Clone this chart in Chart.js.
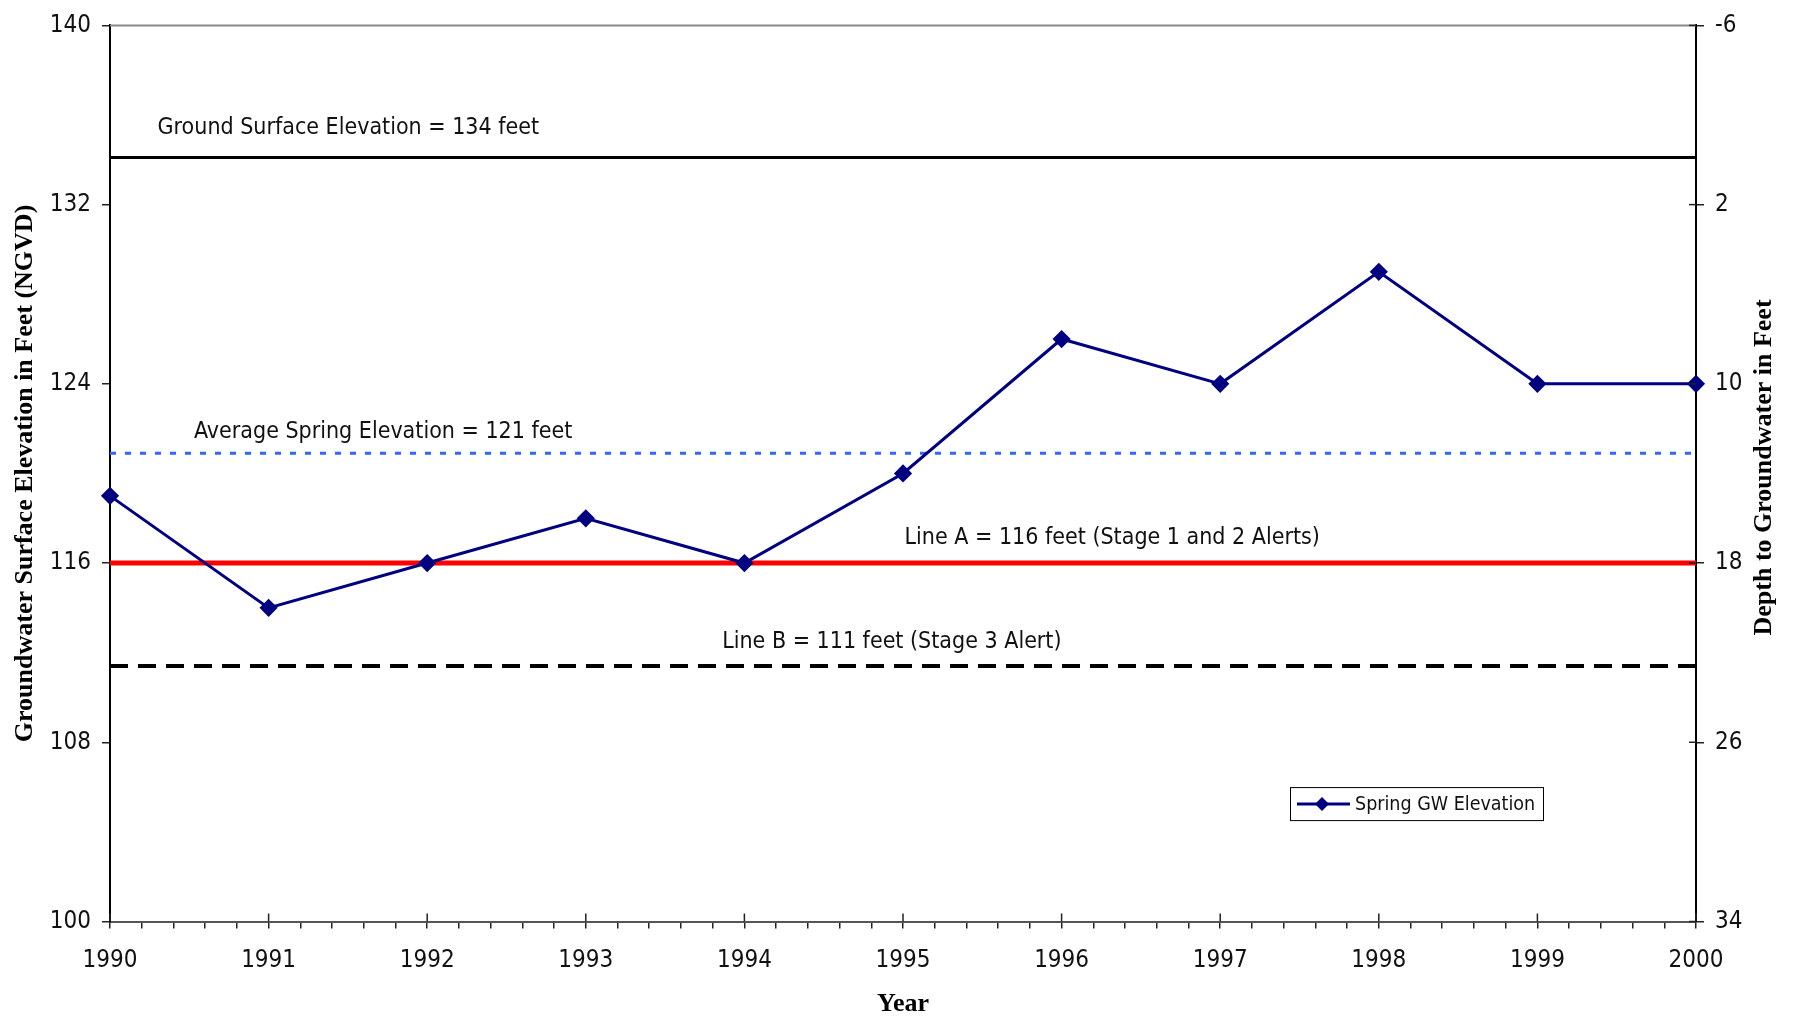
<!DOCTYPE html>
<html>
<head>
<meta charset="utf-8">
<title>Spring GW Elevation</title>
<script src="https://cdn.jsdelivr.net/npm/chart.js@4/dist/chart.umd.min.js"></script>
<style>
	html, body { margin: 0; padding: 0; background: #fff; }
	#wrap { position: relative; width: 1797px; height: 1020px; }
</style>
</head>
<body>
<div id="wrap"><canvas id="gw"></canvas></div>
<script>
// Data
const years = [1990, 1991, 1992, 1993, 1994, 1995, 1996, 1997, 1998, 1999, 2000];
const springElevation = [119, 114, 116, 118, 116, 120, 126, 124, 129, 124, 124];
const groundSurface = 134.1;
const avgSpring = 120.9;
const lineA = 116;
const lineB = 111.4;
const elevationTicks = [100, 108, 116, 124, 132, 140];
const depthTicks = [-6, 2, 10, 18, 26, 34];

const narrow = "'Liberation Sans Narrow', 'Arial Narrow', 'DejaVu Sans Condensed', sans-serif";
const serif = "'Liberation Serif', 'Times New Roman', serif";

// text notes placed in data units
const notes = [
	{ text: "Ground Surface Elevation = 134 feet", x: 1990.3, y: 135.15 },
	{ text: "Average Spring Elevation = 121 feet", x: 1990.53, y: 121.6 },
	{ text: "Line A = 116 feet (Stage 1 and 2 Alerts)", x: 1995.01, y: 116.85 },
	{ text: "Line B = 111 feet (Stage 3 Alert)", x: 1993.86, y: 112.2 }
];

function flatLine(v) {
	return [{ x: years[0], y: v }, { x: years[years.length - 1], y: v }];
}

const overlay = {
	id: "overlay",
	afterDatasetsDraw(chart) {
		const { ctx, scales: { x, y } } = chart;
		ctx.save();
		ctx.fillStyle = "#111";
		ctx.font = "23px " + narrow;
		ctx.textAlign = "left";
		ctx.textBaseline = "alphabetic";
		notes.forEach((n) => {
			ctx.fillText(n.text, x.getPixelForValue(n.x), y.getPixelForValue(n.y));
		});
		ctx.restore();
	},
	afterDraw(chart) {
		const { ctx, chartArea: a, scales: { x, y2 } } = chart;
		ctx.save();
		// top frame line
		ctx.strokeStyle = "#8a8a8a";
		ctx.lineWidth = 2;
		ctx.beginPath();
		ctx.moveTo(a.left, a.top);
		ctx.lineTo(a.right, a.top);
		ctx.stroke();

		// inner halves of major ticks
		ctx.strokeStyle = "#222";
		ctx.lineWidth = 1.5;
		x.ticks.forEach((t) => {
			if (Math.abs(t.value - Math.round(t.value)) > 1e-6) return;
			const px = x.getPixelForValue(t.value);
			ctx.beginPath();
			ctx.moveTo(px, a.bottom);
			ctx.lineTo(px, a.bottom - 8);
			ctx.stroke();
		});
		y2.ticks.forEach((t) => {
			const py = y2.getPixelForValue(t.value);
			ctx.beginPath();
			ctx.moveTo(a.right, py);
			ctx.lineTo(a.right - 7, py);
			ctx.stroke();
		});

		// right axis title, reads bottom to top
		ctx.fillStyle = "#000";
		ctx.font = "bold 26px " + serif;
		ctx.textAlign = "center";
		ctx.textBaseline = "middle";
		ctx.translate(1764, (a.top + a.bottom) / 2 - 6);
		ctx.rotate(-Math.PI / 2);
		ctx.fillText("Depth to Groundwater in Feet", 0, 0);
		ctx.restore();

		// legend box inside the plot
		const ds = chart.data.datasets[0];
		const bx = 1290;
		const by = a.top + (a.bottom - a.top) * 0.85;
		const bw = 253, bh = 33;
		ctx.save();
		ctx.fillStyle = "#fff";
		ctx.fillRect(bx, by, bw, bh);
		ctx.strokeStyle = "#000";
		ctx.lineWidth = 1;
		ctx.strokeRect(bx + 0.5, by + 0.5, bw, bh);
		const my = by + bh / 2 + 0.5;
		ctx.strokeStyle = ds.borderColor;
		ctx.lineWidth = ds.borderWidth;
		ctx.beginPath();
		ctx.moveTo(bx + 7, my);
		ctx.lineTo(bx + 60, my);
		ctx.stroke();
		ctx.fillStyle = ds.pointBackgroundColor;
		ctx.beginPath();
		ctx.moveTo(bx + 32, my - 7);
		ctx.lineTo(bx + 39, my);
		ctx.lineTo(bx + 32, my + 7);
		ctx.lineTo(bx + 25, my);
		ctx.closePath();
		ctx.fill();
		ctx.fillStyle = "#111";
		ctx.font = "19.5px " + narrow;
		ctx.textAlign = "left";
		ctx.textBaseline = "middle";
		ctx.fillText(ds.label, bx + 65, my + 1);
		ctx.restore();
	}
};

const tickFont = { family: narrow, size: 24 };

const config = {
	type: "line",
	data: {
		datasets: [
			{
				label: "Spring GW Elevation",
				data: years.map((yr, i) => ({ x: yr, y: springElevation[i] })),
				borderColor: "#000080",
				borderWidth: 3,
				pointStyle: "rectRot",
				pointRadius: 7,
				pointBackgroundColor: "#000080",
				pointBorderColor: "#000080",
				tension: 0,
				clip: false,
				order: 0
			},
			{
				label: "Ground Surface",
				data: flatLine(groundSurface),
				borderColor: "#000",
				borderWidth: 3,
				pointRadius: 0,
				order: 4
			},
			{
				label: "Average",
				data: flatLine(avgSpring),
				borderColor: "#3366ff",
				borderWidth: 3,
				borderDash: [6, 9],
				pointRadius: 0,
				order: 3
			},
			{
				label: "Line A",
				data: flatLine(lineA),
				borderColor: "#ff0000",
				borderWidth: 5,
				pointRadius: 0,
				order: 2
			},
			{
				label: "Line B",
				data: flatLine(lineB),
				borderColor: "#000",
				borderWidth: 4,
				borderDash: [18, 10],
				pointRadius: 0,
				order: 1
			}
		]
	},
	options: {
		responsive: false,
		animation: false,
		layout: { padding: { top: 22, left: 0, right: 0, bottom: 0 } },
		plugins: {
			legend: { display: false },
			tooltip: { enabled: false }
		},
		scales: {
			x: {
				type: "linear",
				min: years[0],
				max: years[years.length - 1],
				afterFit: (s) => { s.height = 98.5; },
				grid: { drawOnChartArea: false, tickLength: 7, color: "#222", lineWidth: 1.5 },
				border: { color: "#555", width: 2 },
				ticks: {
					stepSize: 0.2,
					autoSkip: false,
					maxRotation: 0,
					padding: 18,
					color: "#111",
					font: tickFont,
					callback: (v) => (Math.abs(v - Math.round(v)) < 1e-6 ? String(Math.round(v)) : "")
				},
				title: {
					display: true,
					text: "Year",
					color: "#000",
					font: { family: serif, size: 26, weight: "bold" },
					padding: { top: 0, bottom: 0 }
				}
			},
			y: {
				position: "left",
				min: elevationTicks[0],
				max: elevationTicks[elevationTicks.length - 1],
				afterFit: (s) => { s.width = 110; },
				afterBuildTicks: (s) => { s.ticks = elevationTicks.map((v) => ({ value: v })); },
				grid: { drawOnChartArea: false, tickLength: 8, color: "#222", lineWidth: 1.5 },
				border: { color: "#000", width: 2 },
				ticks: { padding: 11, color: "#111", font: tickFont },
				title: {
					display: true,
					text: "Groundwater Surface Elevation in Feet (NGVD)",
					color: "#000",
					font: { family: serif, size: 26, weight: "bold" },
					padding: { top: 10, bottom: 0 }
				}
			},
			y2: {
				position: "right",
				reverse: true,
				min: depthTicks[0],
				max: depthTicks[depthTicks.length - 1],
				afterFit: (s) => { s.width = 101; },
				afterBuildTicks: (s) => { s.ticks = depthTicks.map((v) => ({ value: v })); },
				grid: { drawOnChartArea: false, tickLength: 8, color: "#222", lineWidth: 1.5 },
				border: { color: "#000", width: 2 },
				ticks: { padding: 11, color: "#111", font: tickFont }
			}
		}
	},
	plugins: [overlay]
};

const canvas = document.getElementById("gw");
canvas.width = 1797;
canvas.height = 1020;
window.gwChart = new Chart(canvas, config);
</script>
</body>
</html>
